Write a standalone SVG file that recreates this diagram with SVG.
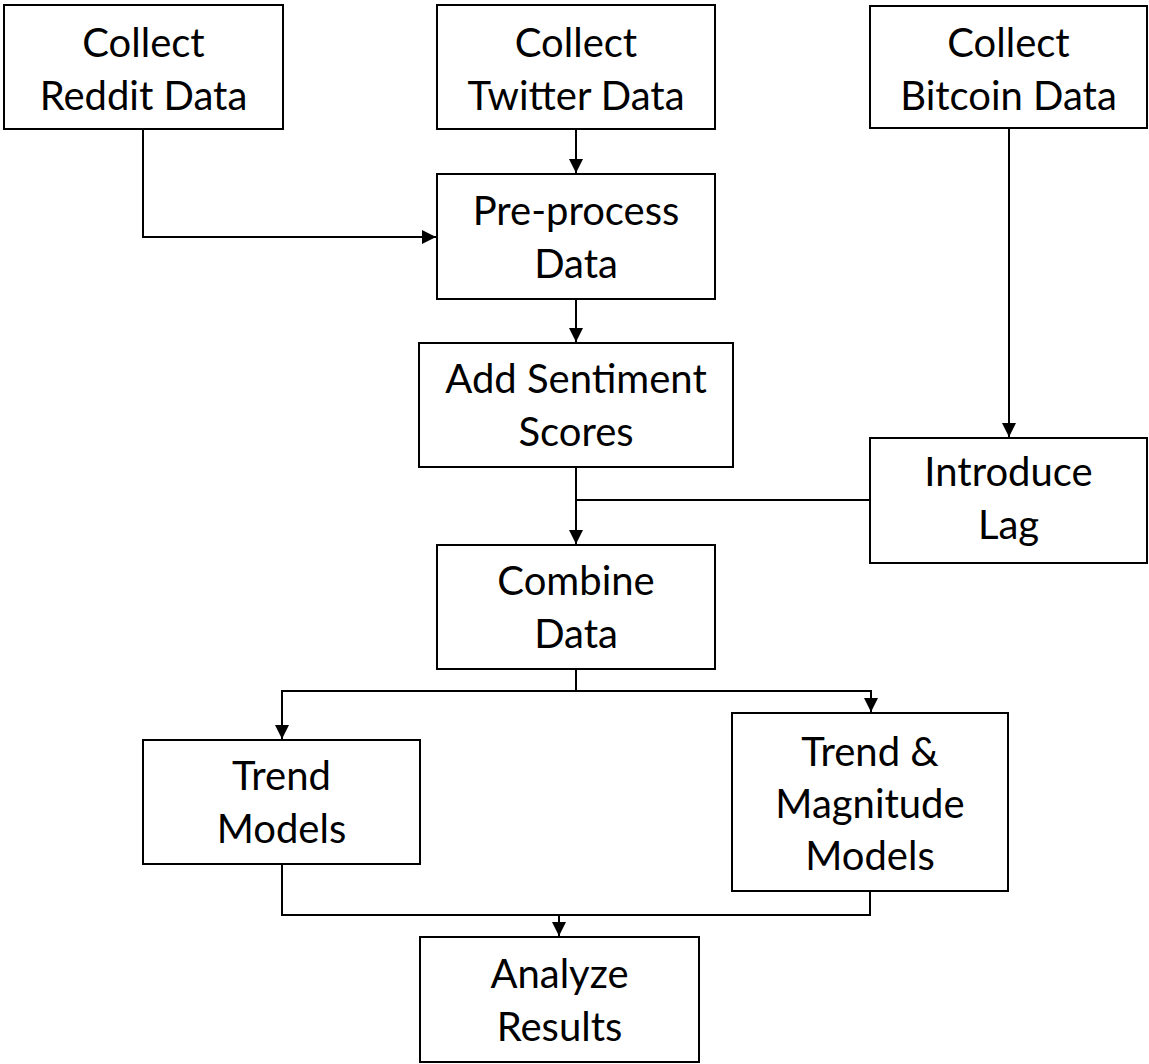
<svg xmlns="http://www.w3.org/2000/svg" width="1149" height="1064" viewBox="0 0 1149 1064">
  <style>
    .box { fill: #ffffff; stroke: #000000; stroke-width: 2; }
    .lbl { font-family: Lato, "Open Sans", "Liberation Sans", sans-serif; font-size: 40px; fill: #000000; text-anchor: middle; }
    .edge { fill: none; stroke: #000000; stroke-width: 2; }
  </style>
  <defs>
    <marker id="arrow" markerUnits="userSpaceOnUse" markerWidth="14" markerHeight="14" viewBox="0 0 12 12" refX="12" refY="6" orient="auto">
      <path d="M0,0 L12,6 L0,12 Z" fill="#000000"/>
    </marker>
  </defs>
  <rect width="1149" height="1064" fill="#ffffff"/>

  <g id="connectors">
    <path class="edge" d="M143,129 V237 H436" marker-end="url(#arrow)"/>
    <path class="edge" d="M576,129 V173" marker-end="url(#arrow)"/>
    <path class="edge" d="M576,299 V342" marker-end="url(#arrow)"/>
    <path class="edge" d="M576,467 V544" marker-end="url(#arrow)"/>
    <path class="edge" d="M870,500 H576"/>
    <path class="edge" d="M1009,128 V437" marker-end="url(#arrow)"/>
    <path class="edge" d="M576,669 V691 H282 V739" marker-end="url(#arrow)"/>
    <path class="edge" d="M576,691 H871 V712" marker-end="url(#arrow)"/>
    <path class="edge" d="M282,864 V915 H870 V891"/>
    <path class="edge" d="M559,915 V936" marker-end="url(#arrow)"/>
  </g>

  <g id="reddit">
    <rect class="box" x="4" y="5" width="279" height="124"/>
    <text class="lbl" x="143.5" y="57">Collect</text>
    <text class="lbl" x="143.5" y="110">Reddit Data</text>
  </g>
  <g id="twitter">
    <rect class="box" x="437" y="5" width="278" height="124"/>
    <text class="lbl" x="576" y="57">Collect</text>
    <text class="lbl" x="576" y="110">Twitter Data</text>
  </g>
  <g id="bitcoin">
    <rect class="box" x="870" y="6" width="277" height="122"/>
    <text class="lbl" x="1008.5" y="57">Collect</text>
    <text class="lbl" x="1008.5" y="110">Bitcoin Data</text>
  </g>
  <g id="preprocess">
    <rect class="box" x="437" y="174" width="278" height="125"/>
    <text class="lbl" x="576" y="225">Pre-process</text>
    <text class="lbl" x="576" y="278">Data</text>
  </g>
  <g id="sentiment">
    <rect class="box" x="419" y="343" width="314" height="124"/>
    <text class="lbl" x="576" y="393">Add Sentiment</text>
    <text class="lbl" x="576" y="446">Scores</text>
  </g>
  <g id="lag">
    <rect class="box" x="870" y="438" width="277" height="125"/>
    <text class="lbl" x="1008.5" y="486">Introduce</text>
    <text class="lbl" x="1008.5" y="539">Lag</text>
  </g>
  <g id="combine">
    <rect class="box" x="437" y="545" width="278" height="124"/>
    <text class="lbl" x="576" y="595">Combine</text>
    <text class="lbl" x="576" y="648">Data</text>
  </g>
  <g id="trend">
    <rect class="box" x="143" y="740" width="277" height="124"/>
    <text class="lbl" x="281.5" y="790">Trend</text>
    <text class="lbl" x="281.5" y="843">Models</text>
  </g>
  <g id="trendmag">
    <rect class="box" x="732" y="713" width="276" height="178"/>
    <text class="lbl" x="870" y="766">Trend &amp;</text>
    <text class="lbl" x="870" y="818">Magnitude</text>
    <text class="lbl" x="870" y="870">Models</text>
  </g>
  <g id="analyze">
    <rect class="box" x="420" y="937" width="279" height="125"/>
    <text class="lbl" x="559.5" y="988">Analyze</text>
    <text class="lbl" x="559.5" y="1041">Results</text>
  </g>
</svg>
